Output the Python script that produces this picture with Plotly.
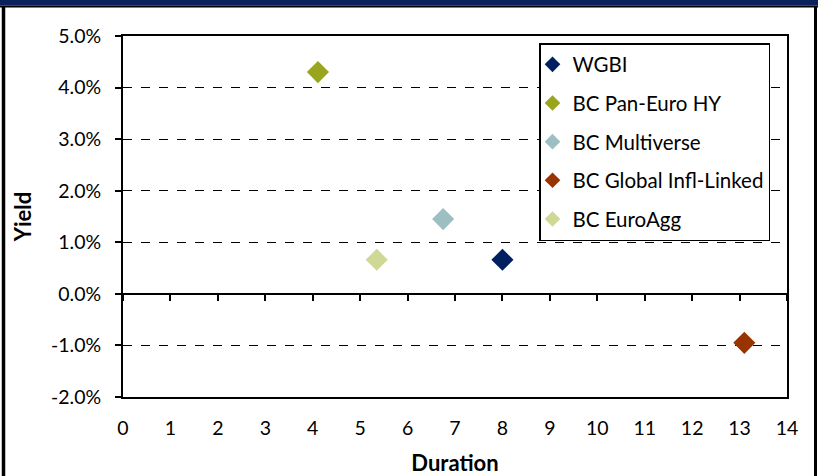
import plotly.graph_objects as go

# ---- data ----
series_names = ["WGBI", "BC Pan-Euro HY", "BC Multiverse", "BC Global Infl-Linked", "BC EuroAgg"]
duration = [8.0, 4.11, 6.75, 13.1, 5.35]
yield_pct = [0.66, 4.30, 1.45, -0.95, 0.66]
colors = ["#002060", "#9AA51E", "#9EBFC2", "#993300", "#D0D896"]

x_ticks = list(range(0, 15))
y_ticks = [-2, -1, 0, 1, 2, 3, 4, 5]

W, H = 818, 476
L, R, T, B = 123, 787, 36, 397  # plot area in pixels

FONT = "Lato, 'Open Sans', sans-serif"

fig = go.Figure()
for i, name in enumerate(series_names):
    fig.add_trace(go.Scatter(
        x=[duration[i]], y=[yield_pct[i]], name=name, mode="markers",
        marker=dict(symbol="diamond", size=17, color=colors[i], line=dict(width=0)),
        legendgroup=name,
    ))

# dummy trace to hold the crossing x-axis at y=0
fig.add_trace(go.Scatter(x=[0], y=[0], xaxis="x2", mode="markers",
                         marker=dict(opacity=0), showlegend=False, hoverinfo="skip"))

def px_x(p):
    return (p - L) / (R - L)

def px_y(p):
    return (B - p) / (B - T)

shapes = [
    dict(type="rect", xref="paper", yref="paper", x0=px_x(0), x1=px_x(W), y0=px_y(5.5), y1=px_y(0),
         fillcolor="#0B215E", line=dict(width=0), layer="above"),
    dict(type="line", xref="paper", yref="paper", x0=px_x(0), x1=px_x(W), y0=px_y(6.5), y1=px_y(6.5),
         line=dict(color="black", width=2)),
    dict(type="line", xref="paper", yref="paper", x0=px_x(3.5), x1=px_x(3.5), y0=px_y(H), y1=px_y(6),
         line=dict(color="black", width=3.5)),
    dict(type="line", xref="paper", yref="paper", x0=px_x(815.5), x1=px_x(815.5), y0=px_y(H), y1=px_y(6),
         line=dict(color="black", width=3)),
]

fig.update_layout(
    width=W, height=H,
    margin=dict(l=L, r=W - R, t=T, b=H - B, pad=0, autoexpand=False),
    paper_bgcolor="white", plot_bgcolor="white",
    font=dict(family=FONT, size=19, color="black"),
    showlegend=True,
    legend=dict(
        x=px_x(539), y=px_y(43), xanchor="left", yanchor="top",
        bordercolor="black", borderwidth=1.5, bgcolor="white",
        font=dict(family=FONT, size=20.5, color="black"),
        tracegroupgap=9, itemsizing="constant", itemwidth=30, indentation=-8,
    ),
    xaxis=dict(
        range=[0, 14], tickmode="array", tickvals=x_ticks, ticktext=[str(v) for v in x_ticks],
        showline=True, linecolor="black", linewidth=2, mirror=True,
        showgrid=False, zeroline=False, ticks="", ticklabelstandoff=13, automargin=False,
        title=dict(text="<b>Duration</b>", font=dict(size=22), standoff=17),
        tickfont=dict(size=19.5),
    ),
    xaxis2=dict(
        range=[0, 14], overlaying="x", anchor="free", position=2 / 7,
        tickmode="array", tickvals=x_ticks, ticks="outside", ticklen=6, tickwidth=1.5,
        tickcolor="black", showticklabels=False, showline=True, linecolor="black", linewidth=2,
        showgrid=False, zeroline=False, automargin=False,
    ),
    yaxis=dict(
        range=[-2, 5], tickmode="array", tickvals=y_ticks,
        ticktext=[f"{v:.1f}%" for v in y_ticks],
        showline=True, linecolor="black", linewidth=2, mirror=True,
        showgrid=True, gridcolor="black", gridwidth=1, griddash="dash",
        zeroline=False, ticks="outside", ticklen=6, tickwidth=1.5, tickcolor="black",
        ticklabelstandoff=10, automargin=False,
        title=dict(text="<b>Yield</b>", font=dict(size=22), standoff=13),
        tickfont=dict(size=19.5),
    ),
    shapes=shapes,
)

fig.write_html("out.html", config={"displayModeBar": False},
               post_script="document.body.style.margin='0';document.body.style.padding='0';")
